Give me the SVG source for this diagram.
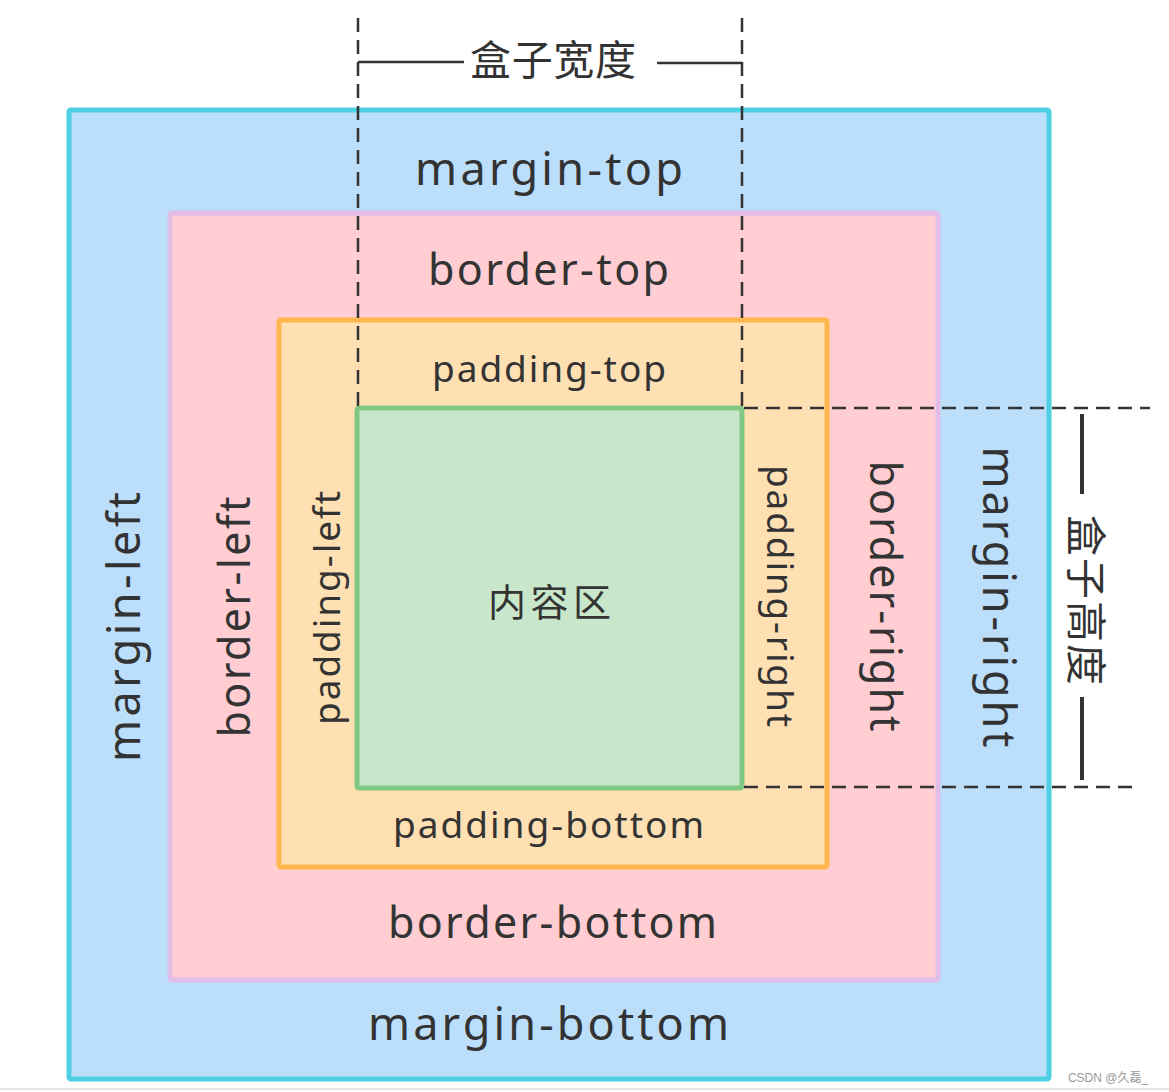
<svg xmlns="http://www.w3.org/2000/svg" width="1169" height="1092" viewBox="0 0 1169 1092">
<style>
.t{font-family:"Noto Sans","Noto Sans CJK SC",sans-serif;fill:#333;text-anchor:middle}
.dash{stroke:#333;stroke-width:2.5;stroke-dasharray:14 8;fill:none}
.solid{stroke:#333;fill:none}
</style>
<rect width="1169" height="1092" fill="#fff"/>
<line x1="0" y1="1089" x2="1169" y2="1089" stroke="#e6e6e6" stroke-width="2"/>
<g id="margin">
<rect x="69" y="110" width="980" height="969" rx="2" fill="#bbdefb" stroke="#4dd0e1" stroke-width="5"/>
<text class="t" x="549" y="185" font-size="45" textLength="268">margin-top</text>
<text class="t" x="548.5" y="1040" font-size="45" textLength="361">margin-bottom</text>
<text class="t" font-size="45" textLength="270" transform="translate(140,627) rotate(-90)">margin-left</text>
<text class="t" font-size="45" textLength="301" transform="translate(983,597) rotate(90)">margin-right</text>
</g>
<g id="border">
<rect x="170" y="213" width="768" height="767" rx="2" fill="#ffcdd2" stroke="#e1bee7" stroke-width="5"/>
<text class="t" x="548.5" y="285" font-size="43" textLength="241">border-top</text>
<text class="t" x="552.5" y="938" font-size="43" textLength="329">border-bottom</text>
<text class="t" font-size="43" textLength="241" transform="translate(250,617) rotate(-90)">border-left</text>
<text class="t" font-size="43" textLength="271" transform="translate(870,596) rotate(90)">border-right</text>
</g>
<g id="padding">
<rect x="279" y="320" width="548" height="547" rx="2" fill="#ffe0b2" stroke="#ffb74d" stroke-width="5"/>
<text class="t" x="549" y="382" font-size="37" textLength="234">padding-top</text>
<text class="t" x="548.5" y="838" font-size="37" textLength="311">padding-bottom</text>
<text class="t" font-size="37" textLength="234" transform="translate(340,608) rotate(-90)">padding-left</text>
<text class="t" font-size="37" textLength="262" transform="translate(767,596) rotate(90)">padding-right</text>
</g>
<g id="content">
<rect x="357" y="408" width="385" height="380" rx="2" fill="#c8e6c9" stroke="#81c784" stroke-width="5"/>
<text class="t" x="549.5" y="616" font-size="38" textLength="123">内容区</text>
</g>
<g id="connectors">
<line class="dash" x1="358" y1="18" x2="358" y2="406"/>
<line class="dash" x1="742" y1="18" x2="742" y2="406"/>
<line class="solid" stroke-width="2.5" x1="358" y1="62" x2="464" y2="62"/>
<line class="solid" stroke-width="2.5" x1="657" y1="63" x2="742" y2="63"/>
<line class="dash" x1="744" y1="408" x2="1150" y2="408"/>
<line class="dash" x1="744" y1="787" x2="1140" y2="787"/>
<line class="solid" stroke-width="4" x1="1082" y1="414" x2="1082" y2="494"/>
<line class="solid" stroke-width="4" x1="1082" y1="697" x2="1082" y2="780"/>
</g>
<g id="labels">
<text class="t" x="553" y="75" font-size="41" textLength="166">盒子宽度</text>
<text class="t" font-size="41" textLength="170" transform="translate(1071,600) rotate(90)">盒子高度</text>
<text x="1108" y="1082" font-size="12" fill="#999" text-anchor="middle" font-family="'Liberation Sans','Noto Sans CJK SC',sans-serif">CSDN @久磊_</text>
</g>
</svg>
